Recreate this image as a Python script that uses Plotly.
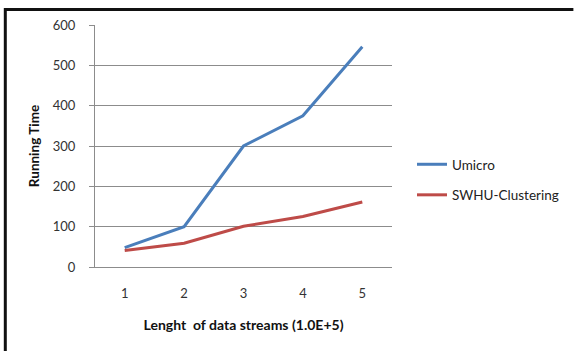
import plotly.graph_objects as go

# Stream lengths (units of 1.0E+5) and running times per method
lengths = ["1", "2", "3", "4", "5"]
umicro = [48, 100, 300, 375, 546]
swhu = [41, 59, 101, 125, 161]

FONT = "Lato"
GRID = "#8c8c8c"

fig = go.Figure()
fig.add_trace(go.Scatter(
    x=lengths, y=umicro, mode="lines", name="Umicro",
    line=dict(color="#4a7ebb", width=3), legendgroup="a",
))
fig.add_trace(go.Scatter(
    x=lengths, y=swhu, mode="lines", name="SWHU-Clustering",
    line=dict(color="#be4b48", width=3), legendgroup="b",
))

# plot area spans x 95..393, y 25..267 px
L, R, T, B = 95, 393, 25, 267
W, H = R - L, B - T


def px_x(p):
    return (p - L) / W


def px_y(p):
    return (B - p) / H


fig.update_layout(
    width=575, height=351,
    margin=dict(l=L, r=575 - R, t=T, b=351 - B),
    paper_bgcolor="white", plot_bgcolor="white",
    font=dict(family=FONT, size=13, color="#333333"),
    showlegend=True,
    legend=dict(
        x=px_x(412), y=px_y(149), xanchor="left", yanchor="top",
        font=dict(family=FONT, size=13.5, color="#222222"),
        tracegroupgap=10, bgcolor="rgba(0,0,0,0)",
    ),
    xaxis=dict(
        type="category", range=[-0.5, 4.5],
        showgrid=False, showline=True, linecolor=GRID, linewidth=1,
        ticks="", ticklabelstandoff=14,
        tickfont=dict(family=FONT, size=13, color="#333333"),
        title=dict(text="Lenght\u00a0 of data streams (1.0E+5)",
                   font=dict(family=FONT, size=14, color="#111111", weight="bold"),
                   standoff=20),
        zeroline=False, fixedrange=True,
    ),
    yaxis=dict(
        range=[0, 600], dtick=100,
        showgrid=True, gridcolor=GRID, gridwidth=1,
        showline=True, linecolor=GRID, linewidth=1,
        ticks="outside", ticklen=5, tickcolor=GRID,
        ticklabelstandoff=11,
        tickfont=dict(family=FONT, size=13, color="#333333"),
        title=dict(text="Running Time",
                   font=dict(family=FONT, size=13.5, color="#111111", weight="bold"),
                   standoff=10),
        zeroline=False, fixedrange=True,
    ),
    shapes=[
        # frame around the chart: top and left edges
        dict(type="line", xref="paper", yref="paper",
             x0=px_x(4), x1=px_x(575), y0=px_y(9.5), y1=px_y(9.5),
             line=dict(color="#111111", width=3)),
        dict(type="line", xref="paper", yref="paper",
             x0=px_x(5), x1=px_x(5), y0=px_y(8), y1=px_y(351),
             line=dict(color="#111111", width=3)),
    ],
)

fig.write_html("out.html")
